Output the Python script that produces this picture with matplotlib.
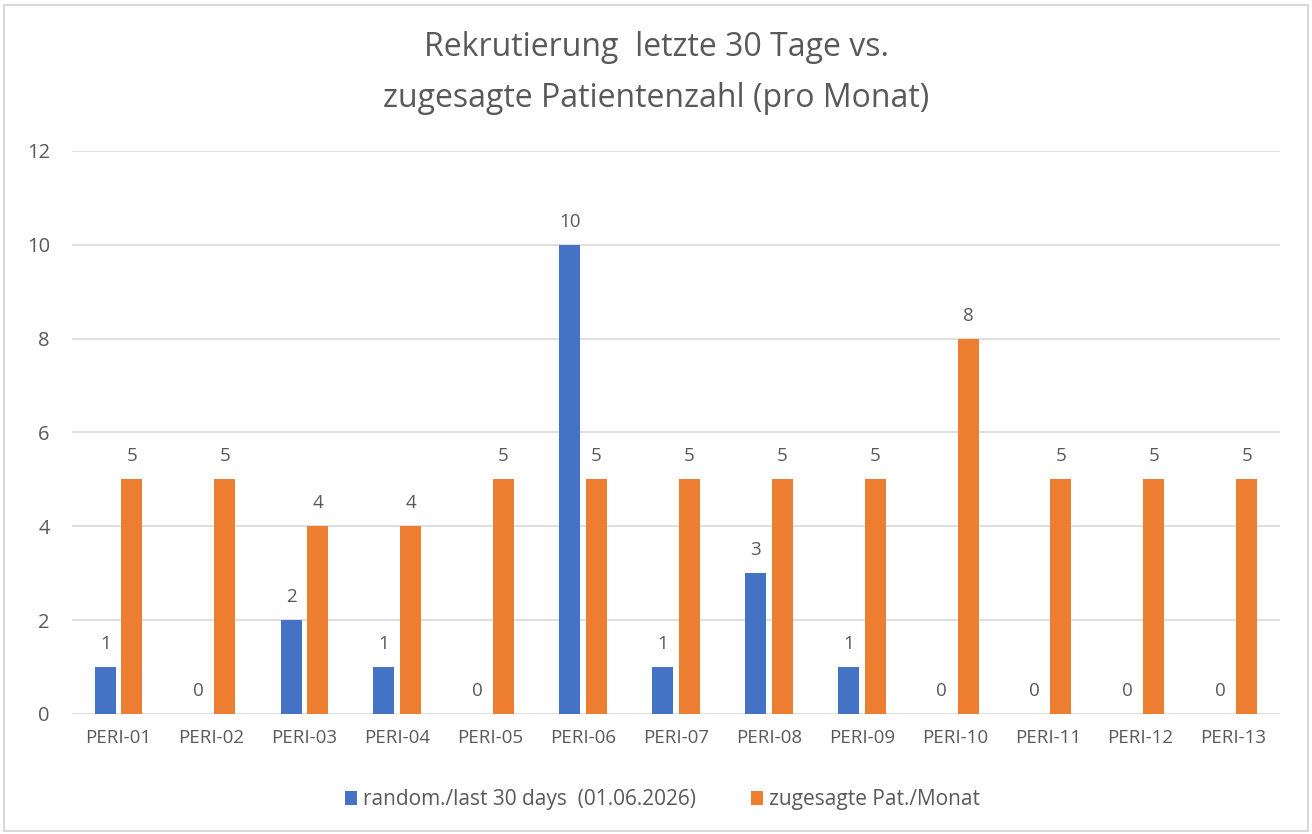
import matplotlib
matplotlib.use("Agg")
import matplotlib.pyplot as plt
import numpy as np
from matplotlib.patches import Rectangle

categories = ["PERI-01", "PERI-02", "PERI-03", "PERI-04", "PERI-05", "PERI-06", "PERI-07",
              "PERI-08", "PERI-09", "PERI-10", "PERI-11", "PERI-12", "PERI-13"]
recruited = [1, 0, 2, 1, 0, 10, 1, 3, 1, 0, 0, 0, 0]
promised = [5, 5, 4, 4, 5, 5, 5, 5, 5, 8, 5, 5, 5]
series_names = ["random./last 30 days  (01.06.2026)", "zugesagte Pat./Monat"]
title = "Rekrutierung  letzte 30 Tage vs.\nzugesagte Patientenzahl (pro Monat)"
yticks = [0, 2, 4, 6, 8, 10, 12]

plt.rcParams['font.family'] = ['Open Sans', 'DejaVu Sans']
TXT = "#595959"
BLUE = "#4472C4"
ORANGE = "#ED7D31"

fig = plt.figure(figsize=(13.12, 8.34), dpi=100)
fig.patches.append(Rectangle((0.003, 0.004), 0.994, 0.99, transform=fig.transFigure,
                             fill=False, edgecolor="#D9D9D9", linewidth=1.5))
ax = fig.add_axes([0.0549, 0.1439, 0.9207, 0.6751])

x = np.arange(len(categories))
w = 0.226
off = 0.143
b1 = ax.bar(x - off, recruited, w, color=BLUE, label=series_names[0], zorder=3)
b2 = ax.bar(x + off, promised, w, color=ORANGE, label=series_names[1], zorder=3)

for bars, vals in ((b1, recruited), (b2, promised)):
    for r, v in zip(bars, vals):
        ax.text(r.get_x() + r.get_width() / 2, v + 0.3, str(v), ha="center", va="bottom",
                fontsize=13.5, color=TXT)

ax.set_xlim(-0.5, len(categories) - 0.5)
ax.set_ylim(0, 12)
ax.set_yticks(yticks)
ax.set_xticks(x)
ax.set_xticklabels(categories)
ax.tick_params(axis="x", length=0, labelsize=13.5, colors=TXT, pad=11)
ax.tick_params(axis="y", length=0, labelsize=14.5, colors=TXT, pad=16)
ax.grid(axis="y", color="#D9D9D9", linewidth=1.2, zorder=0)
for s in ax.spines.values():
    s.set_visible(False)

fig.text(0.5, 0.912, title, ha="center", va="center", fontsize=23, color=TXT, linespacing=1.72)

leg = fig.legend(handles=[b1, b2], loc="center", bbox_to_anchor=(0.505, 0.041), ncol=2,
                 frameon=False, fontsize=15, handlelength=0.6, handleheight=0.6,
                 handletextpad=0.3, columnspacing=2.6, labelcolor=TXT)

fig.savefig("out.png", dpi=100)
